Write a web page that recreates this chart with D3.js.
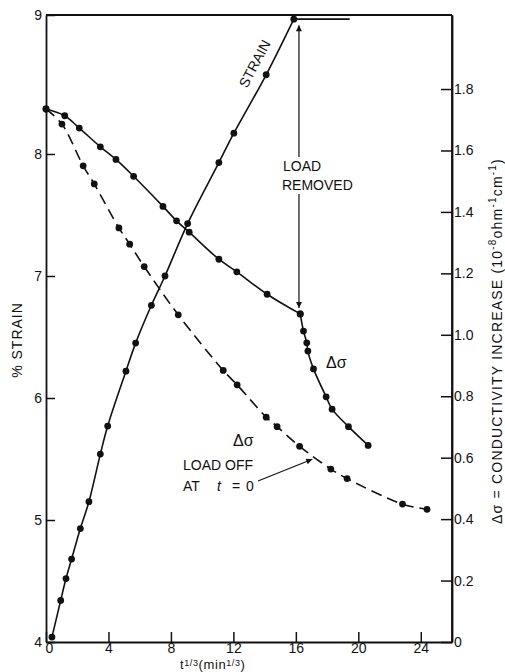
<!DOCTYPE html>
<html>
<head>
<meta charset="utf-8">
<script src="https://cdn.jsdelivr.net/npm/d3@7"></script>
<style>
  html, body { margin: 0; padding: 0; background: #fff; }
  svg { display: block; }
  text { font-family: "Liberation Sans", Arial, sans-serif; fill: #111; }
</style>
</head>
<body>
<svg id="chart" width="505" height="672"></svg>
<script>
// Time axis is t^(1/3) in min^(1/3)
const tTicks = [0, 4, 8, 12, 16, 20, 24];
const strainTicks = [4, 5, 6, 7, 8, 9];
const condTicks = [0, 0.2, 0.4, 0.6, 0.8, 1.0, 1.2, 1.4, 1.6, 1.8];

// % strain while loaded
const strainT   = [0.38, 0.94, 1.28, 1.64, 2.2, 2.75, 3.48, 3.95, 5.12, 5.74, 6.75, 7.62, 9.07, 11.07, 12.03, 14.1, 15.87];
const strainPct = [4.04, 4.34, 4.52, 4.68, 4.93, 5.15, 5.54, 5.77, 6.22, 6.45, 6.76, 7.0, 7.43, 7.93, 8.15, 8.57, 8.97];
const strainHoldEnd = 19.45;

// conductivity increase under load (10^-8 ohm^-1 cm^-1)
const loadedT     = [0, 1.2, 2.13, 3.48, 4.48, 5.61, 7.49, 8.36, 9.17, 11.07, 12.22, 14.16, 16.28];
const loadedSigma = [1.735, 1.713, 1.673, 1.612, 1.571, 1.516, 1.418, 1.371, 1.334, 1.246, 1.205, 1.132, 1.068];

// conductivity after the load is removed
const recoveryT     = [16.28, 16.49, 16.7, 16.77, 17.13, 17.94, 18.32, 19.37, 20.63];
const recoverySigma = [1.068, 1.012, 0.974, 0.947, 0.889, 0.798, 0.758, 0.701, 0.640];

// conductivity with load off from t = 0
const loadOffT     = [0, 1.02, 2.38, 3.09, 4.67, 5.36, 6.29, 8.47, 11.35, 12.24, 14.1, 14.8, 16.24, 18.24, 19.28, 22.83, 24.4];
const loadOffSigma = [1.735, 1.686, 1.55, 1.491, 1.348, 1.295, 1.222, 1.065, 0.884, 0.837, 0.732, 0.701, 0.637, 0.563, 0.532, 0.449, 0.432];

const loadRemovedT = 16.2;

const svg = d3.select("#chart");
const L = 46, R = 452, T = 15, B = 642;

const x = d3.scaleLinear().domain([0, 26]).range([L, R]);
const yS = d3.scaleLinear().domain([4, 8, 9]).range([B, 154, T]);
const yC = d3.scaleLinear().domain([0, 2.041]).range([B, T]);

const defs = svg.append("defs");
defs.append("marker").attr("id", "head").attr("viewBox", "0 0 10 10")
  .attr("refX", 10).attr("refY", 5).attr("markerWidth", 9).attr("markerHeight", 6)
  .attr("markerUnits", "userSpaceOnUse").attr("orient", "auto-start-reverse")
  .append("path").attr("d", "M0,0 L10,5 L0,10 Z").attr("fill", "#111");

// frame
svg.append("line").attr("x1", L).attr("x2", R).attr("y1", T).attr("y2", T)
  .attr("stroke", "#111").attr("stroke-width", 2);

const axisStyle = g => {
  g.selectAll("path.domain").attr("stroke", "#111").attr("stroke-width", 1.8);
  g.selectAll(".tick line").attr("stroke", "#111").attr("stroke-width", 1.5);
  g.selectAll("text").attr("font-size", 14).attr("font-family", "Liberation Sans, Arial, sans-serif").attr("fill", "#111");
};

svg.append("g").attr("transform", `translate(0,${B})`)
  .call(d3.axisBottom(x).tickValues(tTicks).tickSizeInner(-10).tickSizeOuter(0).tickPadding(1).tickFormat(d3.format("d")))
  .call(axisStyle)
  .call(g => g.selectAll(".tick text").filter(d => d === 0).attr("dx", 3));

svg.append("g").attr("transform", `translate(${L},0)`)
  .call(d3.axisLeft(yS).tickValues(strainTicks).tickSizeInner(-9).tickSizeOuter(0).tickPadding(4).tickFormat(d3.format("d")))
  .call(axisStyle);

svg.append("g").attr("transform", `translate(${R},0)`)
  .call(d3.axisRight(yC).tickValues(condTicks).tickSizeInner(-11).tickSizeOuter(0).tickPadding(2)
    .tickFormat(d => d === 0 ? "0" : d.toFixed(1)))
  .call(axisStyle);
svg.append("line").attr("x1", R).attr("x2", R).attr("y1", T).attr("y2", B)
  .attr("stroke", "#111").attr("stroke-width", 1.8);

// curves
const drawSeries = (ts, vs, yScale, curve, dash, dots = true) => {
  const pts = ts.map((t, i) => [x(t), yScale(vs[i])]);
  svg.append("path").attr("d", d3.line().curve(curve)(pts))
    .attr("fill", "none").attr("stroke", "#111").attr("stroke-width", 1.6)
    .attr("stroke-dasharray", dash);
  if (dots) svg.append("g").selectAll("circle").data(pts).join("circle")
    .attr("cx", d => d[0]).attr("cy", d => d[1]).attr("r", 3.4).attr("fill", "#111");
};

drawSeries(strainT, strainPct, yS, d3.curveCatmullRom, null);
drawSeries([strainT[strainT.length - 1], strainHoldEnd],
  [strainPct[strainPct.length - 1], strainPct[strainPct.length - 1]], yS, d3.curveLinear, null, false);
drawSeries(loadedT, loadedSigma, yC, d3.curveCatmullRom, null);
drawSeries(recoveryT, recoverySigma, yC, d3.curveCatmullRom, null);
drawSeries(loadOffT, loadOffSigma, yC, d3.curveCatmullRom, "11,6");

// load removed double arrow, broken around its label
const ax = x(loadRemovedT);
const aTop = yS(strainPct[strainPct.length - 1]) + 6;
const aBot = yC(recoverySigma[0]) - 6;
svg.append("line").attr("x1", ax).attr("x2", ax).attr("y1", 157).attr("y2", aTop)
  .attr("stroke", "#111").attr("stroke-width", 1.2).attr("marker-end", "url(#head)");
svg.append("line").attr("x1", ax).attr("x2", ax).attr("y1", 194).attr("y2", aBot)
  .attr("stroke", "#111").attr("stroke-width", 1.2).attr("marker-end", "url(#head)");
svg.append("text").attr("x", 283).attr("y", 171).attr("font-size", 14).text("LOAD");
svg.append("text").attr("x", 282).attr("y", 190).attr("font-size", 14).text("REMOVED");

// STRAIN label along the line
svg.append("text").attr("transform", "translate(259,66) rotate(-62)")
  .attr("text-anchor", "middle").attr("font-size", 14).text("STRAIN");

// Δσ labels
svg.append("text").attr("x", 326).attr("y", 368).attr("font-size", 16).text("Δσ");
svg.append("text").attr("x", 233).attr("y", 446).attr("font-size", 16).text("Δσ");
svg.append("text").attr("x", 183).attr("y", 470).attr("font-size", 14).text("LOAD OFF");
const at = svg.append("text").attr("y", 491).attr("font-size", 14);
at.append("tspan").attr("x", 183).text("AT");
at.append("tspan").attr("x", 217).attr("font-style", "italic").text("t");
at.append("tspan").attr("x", 232).text("=");
at.append("tspan").attr("x", 246).text("0");
svg.append("line").attr("x1", 258).attr("y1", 481).attr("x2", x(17.05)).attr("y2", yC(0.595))
  .attr("stroke", "#111").attr("stroke-width", 1.1).attr("marker-end", "url(#head)");

// axis titles
const xt = svg.append("text").attr("x", 180).attr("y", 669).attr("font-size", 13).attr("letter-spacing", 0.6);
xt.append("tspan").text("t");
xt.append("tspan").attr("font-size", 9).attr("dy", -3.5).text("1/3");
xt.append("tspan").attr("dy", 3.5).text("(min");
xt.append("tspan").attr("font-size", 9).attr("dy", -3.5).text("1/3");
xt.append("tspan").attr("dy", 3.5).text(")");

svg.append("text").attr("transform", "translate(22,340) rotate(-90)")
  .attr("text-anchor", "middle").attr("font-size", 14).attr("letter-spacing", 1).text("% STRAIN");

const rt = svg.append("text").attr("transform", "translate(502,341) rotate(-90)")
  .attr("text-anchor", "middle").attr("font-size", 14).attr("letter-spacing", 1.2);
rt.append("tspan").text("Δσ = CONDUCTIVITY INCREASE (10");
rt.append("tspan").attr("font-size", 10).attr("dy", -6).text("-8");
rt.append("tspan").attr("dy", 6).text("ohm");
rt.append("tspan").attr("font-size", 10).attr("dy", -6).text("-1");
rt.append("tspan").attr("dy", 6).text("cm");
rt.append("tspan").attr("font-size", 10).attr("dy", -6).text("-1");
rt.append("tspan").attr("dy", 6).text(")");
</script>
</body>
</html>
